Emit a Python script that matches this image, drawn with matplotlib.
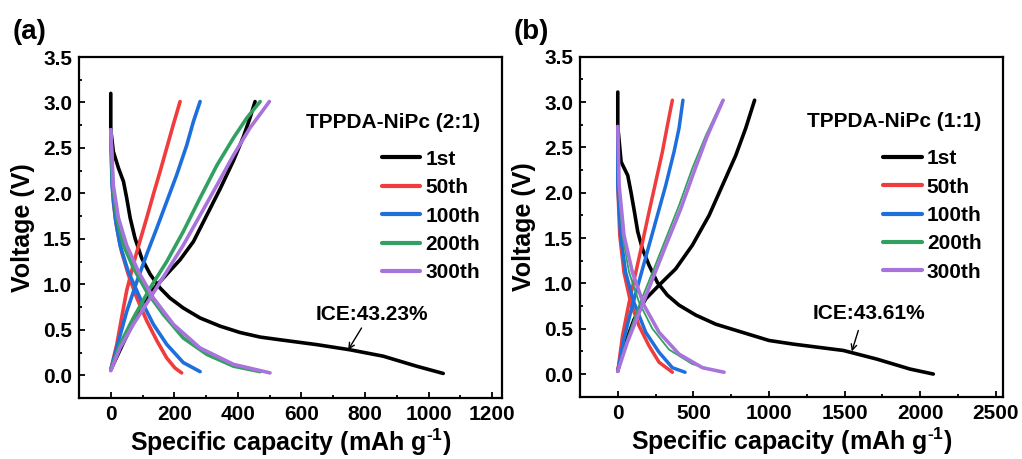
import matplotlib
matplotlib.use("Agg")
import matplotlib.pyplot as plt
from matplotlib.ticker import MultipleLocator

plt.rcParams['font.family'] = ['Liberation Sans', 'DejaVu Sans']
plt.rcParams['font.weight'] = 'bold'
plt.rcParams['mathtext.fontset'] = 'custom'
plt.rcParams['mathtext.rm'] = 'Liberation Sans:bold'
plt.rcParams['mathtext.bf'] = 'Liberation Sans:bold'
plt.rcParams['mathtext.default'] = 'bf'

cycles = ["1st", "50th", "100th", "200th", "300th"]
colors = ["#000000", "#F03C3C", "#1E6FDC", "#32A060", "#A874DC"]

# ---------- Panel (a): TPPDA-NiPc (2:1) ----------
a_dis_cap = [
    [0, 0, 8, 24, 40, 50, 61, 76, 97, 124, 155, 186, 228, 281, 344, 407, 470, 533, 648, 753, 857, 962, 1046],
    [0, 3, 8, 19, 34, 55, 82, 113, 145, 176, 202, 223],
    [0, 4, 14, 29, 55, 92, 134, 176, 228, 281],
    [0, 6, 19, 40, 71, 113, 165, 228, 302, 386, 470],
    [0, 8, 24, 50, 87, 134, 197, 281, 386, 501],
]
a_dis_v = [
    [3.10, 2.70, 2.46, 2.28, 2.13, 1.95, 1.73, 1.51, 1.29, 1.11, 0.96, 0.85, 0.74, 0.63, 0.54, 0.47, 0.42, 0.39, 0.337, 0.28, 0.21, 0.10, 0.02],
    [2.70, 2.28, 1.91, 1.62, 1.36, 1.11, 0.85, 0.60, 0.38, 0.19, 0.08, 0.026],
    [2.70, 2.09, 1.73, 1.43, 1.14, 0.85, 0.56, 0.34, 0.14, 0.04],
    [2.70, 2.09, 1.73, 1.43, 1.18, 0.92, 0.67, 0.41, 0.23, 0.10, 0.04],
    [2.70, 2.09, 1.73, 1.43, 1.14, 0.85, 0.56, 0.30, 0.12, 0.026],
]
a_chg_cap = [
    [0, 40, 82, 129, 176, 218, 260, 302, 344, 386, 417, 438, 454],
    [0, 19, 34, 50, 71, 92, 113, 134, 155, 176, 197, 218],
    [0, 24, 50, 82, 113, 145, 176, 207, 239, 260, 281],
    [0, 29, 71, 124, 176, 228, 281, 334, 386, 428, 470],
    [0, 29, 71, 124, 176, 228, 281, 334, 386, 438, 499],
]
a_chg_v = [
    [0.06, 0.36, 0.66, 0.93, 1.11, 1.27, 1.47, 1.76, 2.05, 2.36, 2.62, 2.83, 3.01],
    [0.06, 0.34, 0.63, 0.93, 1.22, 1.48, 1.73, 1.99, 2.24, 2.50, 2.76, 3.01],
    [0.06, 0.37, 0.70, 1.03, 1.33, 1.62, 1.91, 2.20, 2.53, 2.79, 3.01],
    [0.06, 0.34, 0.63, 0.96, 1.25, 1.58, 1.95, 2.31, 2.61, 2.83, 3.01],
    [0.05, 0.30, 0.56, 0.85, 1.14, 1.43, 1.76, 2.09, 2.42, 2.72, 3.01],
]

# ---------- Panel (b): TPPDA-NiPc (1:1) ----------
b_dis_cap = [
    [0, 0, 22, 66, 88, 110, 132, 163, 207, 262, 328, 405, 516, 648, 824, 1001, 1161, 1492, 1713, 1933, 2087],
    [0, 0, 13, 41, 85, 141, 207, 273, 361],
    [0, 0, 19, 52, 107, 185, 273, 361, 445],
    [0, 4, 31, 75, 141, 229, 339, 493, 681],
    [0, 9, 41, 97, 173, 273, 405, 560, 703],
]
b_dis_v = [
    [3.11, 2.73, 2.34, 2.19, 2.00, 1.79, 1.57, 1.38, 1.20, 1.01, 0.87, 0.76, 0.65, 0.55, 0.46, 0.37, 0.33, 0.26, 0.165, 0.055, 0.0],
    [2.73, 2.08, 1.53, 1.12, 0.79, 0.53, 0.31, 0.13, 0.02],
    [2.73, 2.08, 1.53, 1.12, 0.79, 0.46, 0.24, 0.07, 0.02],
    [2.73, 2.08, 1.53, 1.12, 0.79, 0.50, 0.27, 0.11, 0.02],
    [2.73, 2.08, 1.53, 1.12, 0.76, 0.46, 0.22, 0.07, 0.02],
]
b_chg_cap = [
    [0, 41, 107, 185, 273, 383, 493, 604, 692, 780, 846, 905],
    [0, 31, 75, 119, 163, 207, 251, 295, 328, 361],
    [0, 41, 97, 152, 207, 262, 317, 372, 405, 431],
    [0, 63, 141, 229, 317, 405, 493, 582, 692],
    [0, 63, 152, 240, 328, 416, 504, 593, 697],
]
b_chg_v = [
    [0.04, 0.30, 0.60, 0.83, 0.98, 1.16, 1.42, 1.75, 2.08, 2.41, 2.71, 3.02],
    [0.03, 0.42, 0.79, 1.12, 1.45, 1.79, 2.12, 2.45, 2.74, 3.02],
    [0.03, 0.39, 0.76, 1.09, 1.42, 1.75, 2.08, 2.45, 2.71, 3.02],
    [0.03, 0.39, 0.76, 1.12, 1.49, 1.86, 2.27, 2.63, 3.02],
    [0.03, 0.35, 0.72, 1.09, 1.46, 1.82, 2.23, 2.63, 3.02],
]

panels = [
    dict(label="(a)", title="TPPDA-NiPc (2:1)", ice="ICE:43.23%",
         dis_cap=a_dis_cap, dis_v=a_dis_v, chg_cap=a_chg_cap, chg_v=a_chg_v,
         xlim=(-100, 1230), xmajor=200, xminor=100,
         ice_xy=(747, 0.28), ice_text_xy=(822, 0.667), arrow_start=(789, 0.52),
         pos=[0.0773, 0.1329, 0.4136, 0.7429], lws=[2.6, 2.6, 2.6, 2.6, 2.6]),
    dict(label="(b)", title="TPPDA-NiPc (1:1)", ice="ICE:43.61%",
         dis_cap=b_dis_cap, dis_v=b_dis_v, chg_cap=b_chg_cap, chg_v=b_chg_v,
         xlim=(-250, 2550), xmajor=500, xminor=250,
         ice_xy=(1548, 0.25), ice_text_xy=(1664, 0.663), arrow_start=(1591, 0.48),
         pos=[0.5675, 0.1357, 0.4142, 0.7408], lws=[2.6, 2.5, 2.5, 1.3, 2.6]),
]

fig = plt.figure(figsize=(10.22, 4.59), dpi=100)

for p in panels:
    ax = fig.add_axes(p["pos"])
    handles = []
    for i, name in enumerate(cycles):
        lw = p["lws"][i]
        h, = ax.plot(p["dis_cap"][i], p["dis_v"][i], color=colors[i], lw=lw,
                     solid_capstyle='round', solid_joinstyle='round', label=name)
        ax.plot(p["chg_cap"][i], p["chg_v"][i], color=colors[i], lw=lw,
                solid_capstyle='round', solid_joinstyle='round')
        handles.append(h)

    ax.set_xlim(*p["xlim"])
    ax.set_ylim(-0.25, 3.5)
    ax.xaxis.set_major_locator(MultipleLocator(p["xmajor"]))
    ax.xaxis.set_minor_locator(MultipleLocator(p["xminor"]))
    ax.yaxis.set_major_locator(MultipleLocator(0.5))
    ax.yaxis.set_minor_locator(MultipleLocator(0.25))
    ax.yaxis.set_major_formatter(plt.FormatStrFormatter('%.1f'))
    ax.tick_params(which='both', direction='in', top=False, right=False, width=1.3,
                   labelsize=15, pad=5)
    ax.tick_params(which='major', length=4.5)
    ax.tick_params(which='minor', length=2.5)
    for lab in ax.get_xticklabels() + ax.get_yticklabels():
        lab.set_fontweight('bold')
    for s in ax.spines.values():
        s.set_linewidth(1.6)

    ax.set_xlabel(r"Specific capacity (mAh g$^{\text{-1}}$)", fontsize=18,
                  fontweight='bold', labelpad=2)
    ax.set_ylabel("Voltage (V)", fontsize=18, fontweight='bold', labelpad=6)

    ax.text(0.949, 0.808, p["title"], transform=ax.transAxes, ha='right', va='center',
            fontsize=15, fontweight='bold')
    leg = ax.legend(handles=handles, loc='upper left', bbox_to_anchor=(0.716, 0.728),
                    frameon=False, fontsize=15, handlelength=1.85, handletextpad=0.25,
                    labelspacing=0.45, borderpad=0, borderaxespad=0)
    for t in leg.get_texts():
        t.set_fontweight('bold')
    for l in leg.get_lines():
        l.set_linewidth(3)

    ax.annotate("", xy=p["ice_xy"], xytext=p["arrow_start"],
                arrowprops=dict(arrowstyle='->', color='black', lw=1.0,
                                shrinkA=0, shrinkB=0, mutation_scale=10))
    ax.text(p["ice_text_xy"][0], p["ice_text_xy"][1], p["ice"], ha='center', va='center',
            fontsize=15, fontweight='bold')

    x0 = p["pos"][0]
    fig.text(x0 - 0.065, 0.93, p["label"], fontsize=20, fontweight='bold',
             ha='left', va='center')

fig.savefig("out.png", dpi=100)
